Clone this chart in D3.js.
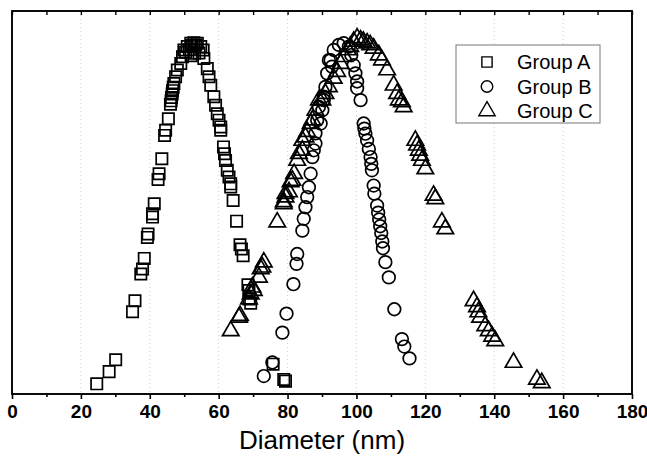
<!DOCTYPE html>
<html>
<head>
<meta charset="utf-8">
<script src="https://cdn.jsdelivr.net/npm/d3@7"></script>
<style>
  html, body { margin: 0; padding: 0; background: #fff; }
  svg { display: block; font-family: "Liberation Sans", Arial, sans-serif; }
</style>
</head>
<body>
<div id="chart"></div>
<script>
/* scatter of three size distributions */

// [diameter nm, relative intensity]
const groupA = [
  [24.6,0],[28.2,3.6],[30.1,7.1],[35.0,21.3],[35.7,24.5],[37.4,32.4],[37.9,33.9],[38.4,37.0],
  [39.3,43.2],[39.5,44.2],[40.8,49.2],[40.8,50.2],[41.3,53.1],[42.4,60.3],[42.7,62.0],[43.5,66.4],
  [44.3,73.3],[44.6,74.8],[45.4,78.2],[46.0,82.5],[46.2,83.5],[46.3,84.5],[46.5,85.5],[46.6,86.5],
  [46.8,87.5],[47.0,88.6],[47.5,90.6],[48.0,92.6],[49.0,94.5],[49.5,96.5],[49.9,98.5],[50.4,97.8],
  [50.9,99.5],[51.5,98.6],[51.9,100.5],[52.0,96.8],[52.3,99.8],[52.8,100.6],[53.0,97.5],[53.3,100],
  [53.8,100.5],[54.3,97.6],[54.8,99.5],[55.5,98.5],[55.7,96.0],[56.7,93.0],[57.2,90.6],[57.7,88.1],
  [58.6,84.7],[59.1,82.2],[59.6,79.7],[60.1,77.8],[60.6,75.8],[60.6,74.8],[61.4,69.9],[61.7,67.9],
  [62.0,65.9],[62.5,63.0],[63.0,61.0],[63.5,59.0],[63.5,58.1],[64.2,54.1],[65.2,48.0],[66.2,41.0],
  [66.6,39.8],[67.1,37.8],[68.5,29.2],[68.8,27.5],[68.8,25.0],[69.3,23.8],[75.8,5.8],[78.9,1.3],[79.4,0.8]
];
const groupB = [
  [73.1,2.3],[75.6,6.3],[78.5,15.1],[79.7,20.7],[81.7,29.4],[82.6,35.4],[82.8,38.3],[84.3,45.2],
  [84.7,48.7],[85.2,52.1],[85.7,55.1],[86.2,58.0],[86.7,62.0],[87.2,66.9],[87.6,68.9],[88.1,70.9],
  [88.1,73.9],[88.6,77.8],[89.1,81.7],[89.6,76.8],[90.1,80.7],[90.5,83.7],[90.5,84.7],[91.0,87.6],
  [91.5,91.6],[92.0,95.5],[92.5,95.5],[92.9,93.6],[93.4,98.5],[94.9,100.0],[96.3,100.5],[97.8,99.5],
  [98.5,97.0],[99.2,94.0],[99.7,91.6],[100.2,89.2],[100.2,87.2],[101.2,83.7],[102.1,76.8],[102.3,75.3],
  [102.6,73.8],[103.1,71.8],[103.6,69.3],[104.1,66.9],[104.3,64.9],[104.5,63.0],[105.0,58.5],[105.2,56.1],
  [106.0,52.6],[106.3,50.5],[106.6,48.5],[106.9,46.5],[107.2,44.5],[107.5,42.0],[107.7,40.0],[108.4,35.9],
  [109.4,31.4],[111.0,22.0],[113.2,13.2],[113.9,11.0],[115.4,7.5]
];
const groupC = [
  [63.5,15.6],[65.9,19.6],[66.2,20.1],[68.8,25.0],[69.3,26.5],[69.8,28.5],[70.2,27.5],[71.7,31.4],
  [72.2,33.9],[72.7,34.4],[73.1,35.9],[77.0,47.7],[78.9,53.1],[78.9,53.7],[79.4,55.1],[79.4,56.1],
  [80.4,56.6],[80.9,59.6],[81.4,60.0],[81.9,62.0],[82.8,65.9],[83.3,67.9],[84.3,68.9],[84.3,71.8],
  [85.2,72.8],[85.7,74.4],[86.7,76.8],[87.2,77.8],[88.1,80.7],[89.1,83.7],[90.1,83.7],[91.0,85.6],
  [92.0,87.6],[93.4,90.1],[94.4,92.1],[95.4,94.5],[96.5,96.5],[97.5,98.5],[98.2,99.5],[99.2,101.0],
  [100.2,102.0],[101.2,101.4],[102.0,101.0],[103.1,100.5],[104.0,100.0],[105.0,99.0],[106.5,97.0],
  [107.4,95.5],[108.9,92.6],[110.8,88.1],[111.8,85.6],[112.3,83.7],[113.2,83.2],[113.7,81.7],[117.1,71.8],
  [117.6,70.4],[118.1,68.9],[118.5,67.4],[119.0,65.9],[120.0,63.4],[122.4,55.6],[122.9,54.6],[124.8,47.7],
  [125.8,45.7],[134.0,24.5],[135.0,22.7],[135.4,21.2],[135.9,19.6],[137.4,17.1],[138.4,15.6],[139.4,14.0],
  [140.3,12.7],[145.6,6.3],[152.4,1.3],[153.8,0.3]
];

const seriesNames = ["Group A", "Group B", "Group C"];
const xTicks = [0, 20, 40, 60, 80, 100, 120, 140, 160, 180];
const xMinorTicks = [10, 30, 50, 70, 90, 110, 130, 150, 170];

const W = 647, H = 458;
const margin = { top: 11, right: 15, bottom: 64, left: 12 };

const svg = d3.select("#chart").append("svg").attr("width", W).attr("height", H);

const x = d3.scaleLinear().domain([0, 180]).range([margin.left, W - margin.right]);
const y = d3.scaleLinear().domain([-3, 110]).range([H - margin.bottom, margin.top]);

const symbols = [d3.symbolSquare, d3.symbolCircle, d3.symbolTriangle];
const sizes   = [128, 125, 118];

// Grid
svg.append("g").selectAll("line")
  .data(xTicks.slice(1, -1)).join("line")
  .attr("x1", d => x(d)).attr("x2", d => x(d))
  .attr("y1", y.range()[1]).attr("y2", y.range()[0])
  .attr("stroke", "#cfcfcf").attr("stroke-width", 1)
  .attr("stroke-dasharray", "1,3");

// Points
[groupA, groupB, groupC].forEach((data, i) => {
  svg.append("g").selectAll("path")
    .data(data).join("path")
    .attr("d", d3.symbol(symbols[i], sizes[i]))
    .attr("transform", d => `translate(${x(d[0])},${y(d[1])})`)
    .attr("fill", "none").attr("stroke", "#000").attr("stroke-width", 1.7);
});

// Bottom axis
const axisB = svg.append("g").attr("transform", `translate(0,${y.range()[0]})`);
axisB.call(d3.axisBottom(x).tickValues(xTicks).tickSize(5).tickPadding(6).tickFormat(d3.format("d")));
axisB.append("g").call(d3.axisBottom(x).tickValues(xMinorTicks).tickSize(3).tickFormat(""));
axisB.selectAll(".domain").remove();
axisB.selectAll("line").attr("stroke", "#000").attr("stroke-width", 1.6);
axisB.selectAll("text")
  .attr("font-family", "'Liberation Sans', Arial, sans-serif")
  .attr("font-size", 19).attr("font-weight", "bold").attr("fill", "#000");

// Top axis (inner ticks)
const axisT = svg.append("g").attr("transform", `translate(0,${y.range()[1]})`);
axisT.call(d3.axisBottom(x).tickValues(xTicks.concat(xMinorTicks)).tickSize(4).tickFormat(""));
axisT.selectAll(".domain").remove();
axisT.selectAll("line").attr("stroke", "#000").attr("stroke-width", 1.4);

// Frame
svg.append("rect")
  .attr("x", x.range()[0]).attr("y", y.range()[1])
  .attr("width", x.range()[1] - x.range()[0])
  .attr("height", y.range()[0] - y.range()[1])
  .attr("fill", "none").attr("stroke", "#000").attr("stroke-width", 1.9);

// Axis title
svg.append("text")
  .attr("x", (x.range()[0] + x.range()[1]) / 2).attr("y", 449)
  .attr("text-anchor", "middle")
  .attr("font-size", 26).attr("fill", "#000")
  .text("Diameter (nm)");

// Legend
const lg = svg.append("g");
lg.append("rect")
  .attr("x", 456).attr("y", 45).attr("width", 144).attr("height", 78)
  .attr("fill", "#fff").attr("stroke", "#777").attr("stroke-width", 1);
seriesNames.forEach((name, i) => {
  const cy = 62 + i * 24.5;
  lg.append("path")
    .attr("d", d3.symbol(symbols[i], i === 2 ? 115 : 105))
    .attr("transform", `translate(487,${cy})`)
    .attr("fill", "none").attr("stroke", "#000").attr("stroke-width", 1.4);
  lg.append("text")
    .attr("x", 517).attr("y", cy).attr("dy", "0.36em")
    .attr("font-size", 20).attr("fill", "#000")
    .text(name);
});
</script>
</body>
</html>
